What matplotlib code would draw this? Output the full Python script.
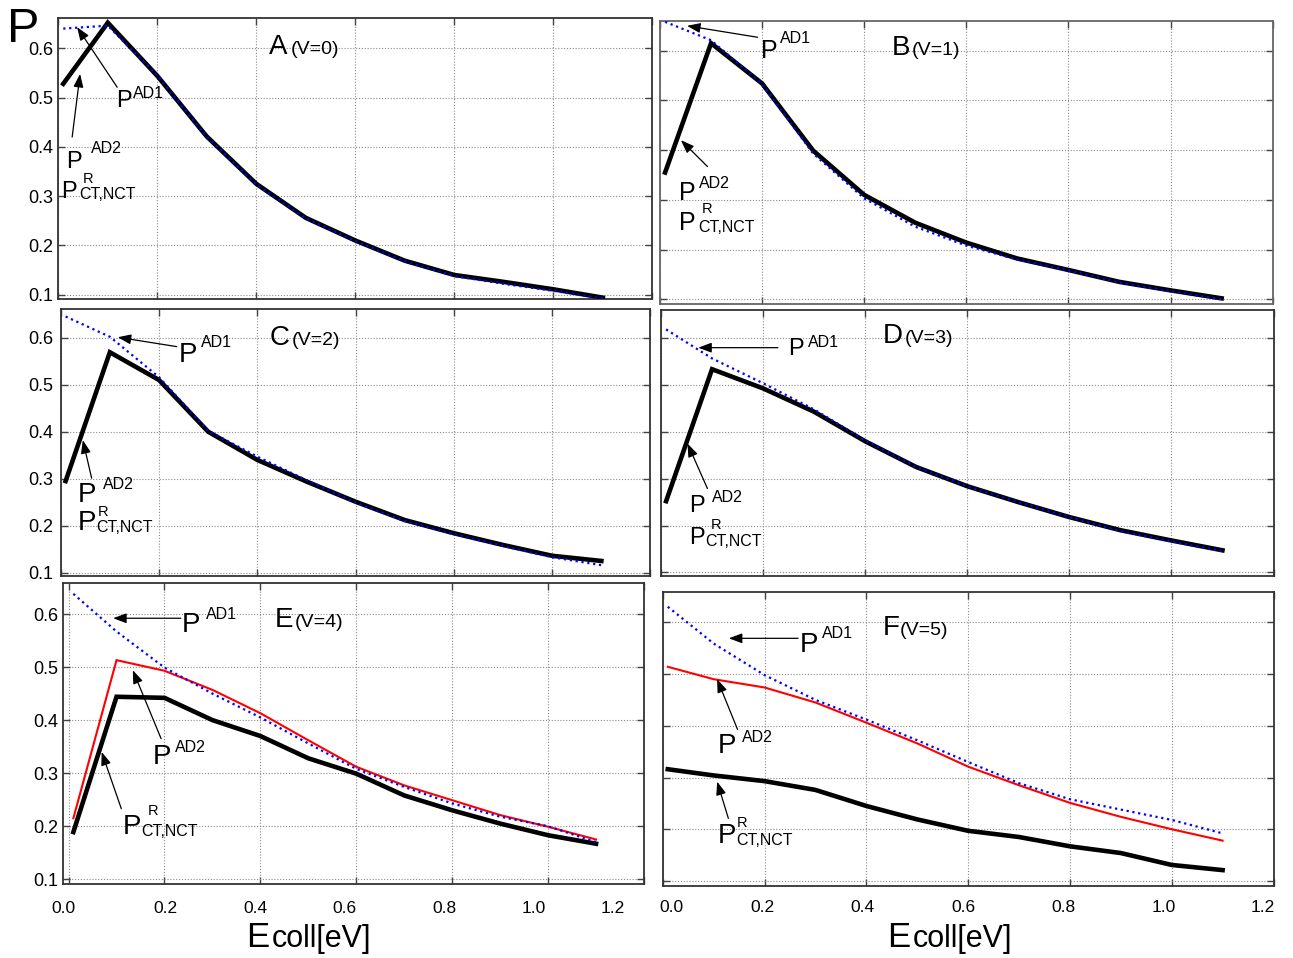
import numpy as np
import matplotlib
matplotlib.use("Agg")
import matplotlib.pyplot as plt

plt.rcParams['font.family'] = ['Liberation Sans', 'DejaVu Sans']

W, H, DPI = 1293, 958, 100
PT = 72.0 / DPI  # points per pixel

# collision energy grid [eV]
E_COLL = [0.01, 0.1, 0.2, 0.3, 0.4, 0.5, 0.6, 0.7, 0.8, 0.9, 1.0, 1.1]

# P^AD1 (blue dotted), P^AD2 (red), P^R_CT,NCT (black) for each vibrational level
p_ad1_v0 = [0.640, 0.646, 0.545, 0.420, 0.324, 0.255, 0.209, 0.168, 0.138, 0.122, 0.108, 0.092]
p_ct_v0 = [0.528, 0.652, 0.544, 0.421, 0.325, 0.256, 0.210, 0.169, 0.140, 0.126, 0.111, 0.094]
p_ad2_v0 = list(p_ct_v0)  # coincides with P^R_CT,NCT

p_ad1_v1 = [0.658, 0.621, 0.533, 0.393, 0.303, 0.246, 0.208, 0.180, 0.158, 0.134, 0.116, 0.100]
p_ct_v1 = [0.355, 0.615, 0.534, 0.399, 0.310, 0.254, 0.214, 0.182, 0.159, 0.135, 0.118, 0.102]
p_ad2_v1 = list(p_ct_v1)

p_ad1_v2 = [0.645, 0.602, 0.516, 0.402, 0.347, 0.297, 0.249, 0.210, 0.182, 0.157, 0.133, 0.116]
p_ct_v2 = [0.295, 0.569, 0.510, 0.400, 0.340, 0.294, 0.251, 0.212, 0.184, 0.159, 0.136, 0.125]
p_ad2_v2 = list(p_ct_v2)

p_ad1_v3 = [0.619, 0.557, 0.504, 0.448, 0.382, 0.325, 0.284, 0.250, 0.218, 0.188, 0.166, 0.145]
p_ct_v3 = [0.252, 0.534, 0.493, 0.443, 0.380, 0.325, 0.284, 0.250, 0.218, 0.190, 0.168, 0.147]
p_ad2_v3 = list(p_ct_v3)

p_ad1_v4 = [0.638, 0.567, 0.499, 0.450, 0.405, 0.356, 0.308, 0.274, 0.243, 0.218, 0.200, 0.170]
p_ad2_v4 = [0.215, 0.513, 0.493, 0.457, 0.413, 0.362, 0.312, 0.277, 0.249, 0.221, 0.199, 0.175]
p_ct_v4 = [0.189, 0.444, 0.442, 0.400, 0.370, 0.328, 0.299, 0.258, 0.230, 0.205, 0.183, 0.167]

p_ad1_v5 = [0.630, 0.559, 0.498, 0.450, 0.412, 0.372, 0.330, 0.289, 0.258, 0.238, 0.218, 0.192]
p_ad2_v5 = [0.514, 0.490, 0.474, 0.445, 0.406, 0.366, 0.321, 0.285, 0.251, 0.224, 0.200, 0.178]
p_ct_v5 = [0.316, 0.304, 0.293, 0.276, 0.245, 0.219, 0.197, 0.185, 0.167, 0.154, 0.131, 0.121]

PANEL_LETTERS = ['A', 'B', 'C', 'D', 'E', 'F']
V_LABELS = ['(V=0)', '(V=1)', '(V=2)', '(V=3)', '(V=4)', '(V=5)']
Y_TICKS = [0.1, 0.2, 0.3, 0.4, 0.5, 0.6]
Y_TICK_LABELS = ['0.1', '0.2', '0.3', '0.4', '0.5', '0.6']
X_GRID = [0.0, 0.2, 0.4, 0.6, 0.8, 1.0, 1.2]
X_TICK_LABELS = ['0.0', '0.2', '0.4', '0.6', '0.8', '1.0', '1.2']

series = [
    (p_ad1_v0, p_ad2_v0, p_ct_v0),
    (p_ad1_v1, p_ad2_v1, p_ct_v1),
    (p_ad1_v2, p_ad2_v2, p_ct_v2),
    (p_ad1_v3, p_ad2_v3, p_ct_v3),
    (p_ad1_v4, p_ad2_v4, p_ct_v4),
    (p_ad1_v5, p_ad2_v5, p_ct_v5),
]

# ---- layout (pixel boxes: left, top, right, bottom) ----
boxes = [
    (58.3, 18.0, 652.3, 299.0),
    (660.0, 21.0, 1272.7, 303.5),
    (60.7, 309.3, 650.5, 576.0),
    (661.0, 310.0, 1273.5, 576.0),
    (63.3, 582.7, 644.0, 884.0),
    (662.7, 591.7, 1273.5, 886.0),
]
ylims = [(0.0913, 0.6615), (0.0916, 0.6597), (0.093, 0.6604),
         (0.0921, 0.6605), (0.0911, 0.659), (0.0903, 0.6591)]
# where the bottom-row tick labels sit along each axis
xlabel_pos = {4: [-0.011, 0.203, 0.389, 0.576, 0.783, 0.970, 1.135],
              5: [0.018, 0.195, 0.392, 0.591, 0.788, 0.985, 1.179]}
xlabel_pad = {4: 12, 5: 10}
ylabel_pad = {0: 3.5, 2: 5.5, 4: 3.5}

# panel letter positions (data coords) and gap to the "(V=n)" part (px)
letter_pos = [(0.426, 0.588), (0.454, 0.591), (0.425, 0.584),
              (0.435, 0.589), (0.431, 0.576), (0.432, 0.575)]
letter_gap = [22.0, 20.3, 21.7, 21.3, 19.8, 17.2]

note_fs = [17, 18, 20, 17, 20, 20]
# curve labels: P position, superscript (text, dx px, raise px),
# optional subscript (text, dx px, drop px), arrow tail, arrow head
notes = [
    [((0.121, 0.481), ('AD1', 15.0, 9.0), None, (0.119, 0.521), (0.038, 0.643)),
     ((0.0198, 0.357), ('AD2', 23.0, 15.0), None, (0.028, 0.420), (0.044, 0.548)),
     ((0.0095, 0.296), ('R', 20.0, 15.0), ('CT,NCT', 16.7, 1.0), None, None)],
    [((0.201, 0.585), ('AD1', 17.3, 15.0), None, (0.191, 0.627), (0.053, 0.650)),
     ((0.041, 0.300), ('AD2', 18.3, 12.0), None, (0.093, 0.367), (0.041, 0.420)),
     ((0.041, 0.239), ('R', 20.5, 17.0), ('CT,NCT', 17.6, 1.5), None, None)],
    [((0.245, 0.549), ('AD1', 20.0, 15.0), None, (0.236, 0.581), (0.116, 0.601)),
     ((0.039, 0.251), ('AD2', 23.0, 12.4), None, (0.063, 0.301), (0.045, 0.382)),
     ((0.039, 0.191), ('R', 17.7, 14.0), ('CT,NCT', 16.7, 2.0), None, None)],
    [((0.253, 0.564), ('AD1', 17.7, 8.3), None, (0.229, 0.580), (0.073, 0.580)),
     ((0.059, 0.229), ('AD2', 20.5, 10.0), None, (0.091, 0.279), (0.052, 0.375)),
     ((0.059, 0.161), ('R', 19.6, 15.0), ('CT,NCT', 14.3, 2.0), None, None)],
    [((0.241, 0.567), ('AD1', 22.0, 12.7), None, (0.234, 0.592), (0.093, 0.592)),
     ((0.181, 0.318), ('AD2', 19.3, 11.6), None, (0.193, 0.365), (0.134, 0.494)),
     ((0.117, 0.186), ('R', 23.3, 18.3), ('CT,NCT', 16.7, 2.0), (0.110, 0.233), (0.069, 0.340))],
    [((0.273, 0.543), ('AD1', 20.4, 13.4), None, (0.266, 0.569), (0.130, 0.569)),
     ((0.112, 0.347), ('AD2', 22.7, 11.6), None, (0.147, 0.393), (0.107, 0.490)),
     ((0.112, 0.173), ('R', 17.5, 16.7), ('CT,NCT', 16.5, 2.0), (0.129, 0.221), (0.107, 0.292))],
]
SUP_FS = 11.5
SUB_FS = 11.5
P_BEARING = 0.077  # left side bearing of "P" (em)

GRID_STYLE = dict(color='#8a8a8a', linestyle=(0, (1, 1.6)), linewidth=0.8)
ARROW = dict(arrowstyle='-|>,head_length=0.8,head_width=0.3', color='black',
             lw=0.9, shrinkA=0, shrinkB=0, mutation_scale=10)

fig = plt.figure(figsize=(W / DPI, H / DPI), dpi=DPI)


def px_box(l, t, r, b):
    return [l / W, 1 - b / H, (r - l) / W, (b - t) / H]


def offset_text(ax, xy, text, dx_px, dy_px, fs):
    ax.annotate(text, xy=xy, xycoords='data', xytext=(dx_px * PT, dy_px * PT),
                textcoords='offset points', fontsize=fs, ha='left',
                va='baseline', annotation_clip=False, zorder=6)


for i, (box, (ad1, ad2, ct)) in enumerate(zip(boxes, series)):
    ax = fig.add_axes(px_box(*box))
    ax.set_xlim(0, 1.2)
    ax.set_ylim(*ylims[i])

    ax.plot(E_COLL, ad2, color='red', lw=1.5, zorder=3, solid_joinstyle='miter')
    ax.plot(E_COLL, ct, color='black', lw=3.3, zorder=4, solid_joinstyle='miter')
    ax.plot(E_COLL, ad1, color='blue', lw=1.6, linestyle=':', zorder=5)

    # grid and ticks
    ax.set_yticks(Y_TICKS)
    ax.set_xticks(X_GRID, minor=True)
    ax.grid(axis='y', which='major', **GRID_STYLE)
    ax.grid(axis='x', which='minor', **GRID_STYLE)
    ax.set_axisbelow(True)
    if i % 2 == 0:
        ax.set_yticklabels(Y_TICK_LABELS)
    else:
        ax.set_yticklabels([])
    ax.tick_params(axis='y', which='major', direction='in', left=True, right=True,
                   length=5, width=1, color='#444444', labelsize=13,
                   pad=ylabel_pad.get(i, 4))
    ax.tick_params(axis='x', which='minor', direction='in', top=True, bottom=True,
                   length=5, width=1, color='#444444')
    if i in xlabel_pos:
        ax.set_xticks(xlabel_pos[i], X_TICK_LABELS)
        ax.tick_params(axis='x', which='major', length=0, labelsize=12.5,
                       pad=xlabel_pad[i])
    else:
        ax.set_xticks([])
    for sp in ax.spines.values():
        sp.set_color('#333333' if i != 1 else '#666666')
        sp.set_linewidth(1.3)

    # panel letter and vibrational level
    ax.text(*letter_pos[i], PANEL_LETTERS[i], fontsize=20, ha='left',
            va='baseline', zorder=6)
    offset_text(ax, letter_pos[i], V_LABELS[i], letter_gap[i], 0, 14)

    # curve labels with arrows
    fs = note_fs[i]
    for pxy, sup, sub, tail, head in notes[i]:
        offset_text(ax, pxy, 'P', -P_BEARING * fs / PT, 0, fs)
        offset_text(ax, pxy, sup[0], sup[1], sup[2],
                    SUP_FS if sup[0] != 'R' else 10.5)
        if sub is not None:
            offset_text(ax, pxy, sub[0], sub[1], -sub[2], SUB_FS)
        if tail is not None:
            ax.annotate('', xy=head, xytext=tail, xycoords='data',
                        arrowprops=ARROW, annotation_clip=False, zorder=6)

# shared axis titles
fig.text(7 / W, 1 - 41.7 / H, 'P', fontsize=35, ha='left', va='baseline')
for ex in (246.3, 887.6):
    fig.text(ex / W, 1 - 946.7 / H, 'E', fontsize=25, ha='left', va='baseline')
    fig.text((ex + 25.3) / W, 1 - 946.7 / H, 'coll[eV]', fontsize=22,
             ha='left', va='baseline')

fig.savefig('out.png', dpi=DPI, facecolor='white')
